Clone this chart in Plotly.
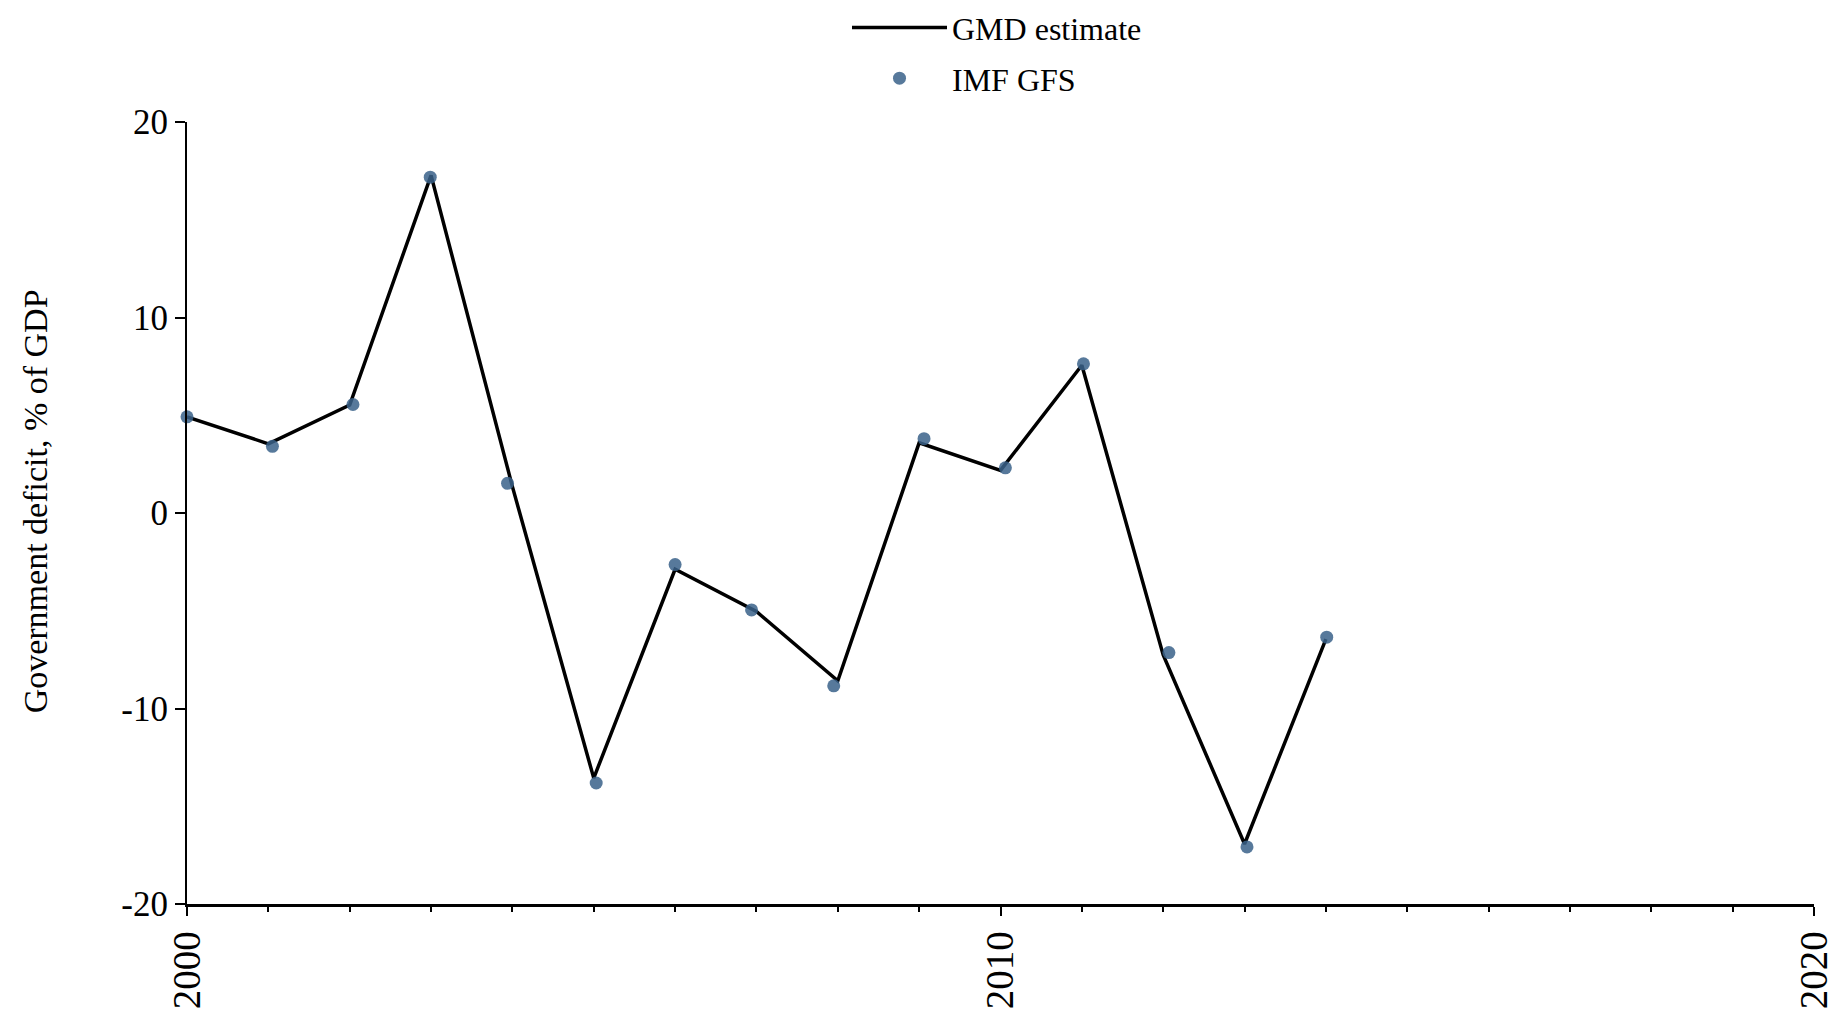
import plotly.graph_objects as go

# GMD estimate (line)
gmd_years = [2000, 2001, 2002, 2003, 2004, 2005, 2006, 2007, 2008, 2009, 2010, 2011, 2012, 2013, 2014]
gmd_values = [4.92, 3.54, 5.52, 17.27, 1.35, -13.56, -2.88, -5.04, -8.58, 3.59, 2.18, 7.56, -7.26, -16.93, -6.45]

# IMF GFS (dots, slightly jittered horizontally in the original)
imf_years = [2000.0, 2001.05, 2002.04, 2002.99, 2003.94, 2005.03, 2006.0, 2006.94, 2007.95, 2009.06, 2010.06, 2011.02, 2012.07, 2013.03, 2014.01]
imf_values = [4.92, 3.41, 5.55, 17.18, 1.52, -13.81, -2.64, -4.96, -8.84, 3.80, 2.31, 7.63, -7.14, -17.08, -6.35]

x_tickvals = [2000, 2010, 2020]
y_tickvals = [-20, -10, 0, 10, 20]

FONT = "Liberation Serif"
W, H = 1829, 1004  # page body has an 8px margin
ML, MR, MT, MB = 178.5, 23.4, 113.8, 107.5
PH = H - MT - MB

fig = go.Figure()
fig.add_trace(go.Scatter(
    x=gmd_years, y=gmd_values, mode="lines", name="GMD estimate",
    line=dict(color="black", width=3.5), legendgroup="a", cliponaxis=False,
))
fig.add_trace(go.Scatter(
    x=imf_years, y=imf_values, mode="markers", name="IMF GFS",
    marker=dict(color="#3a6189", size=13, opacity=0.85, line=dict(width=0)),
    legendgroup="b", cliponaxis=False,
))

fig.update_layout(
    width=W, height=H,
    paper_bgcolor="white", plot_bgcolor="white",
    margin=dict(l=ML, r=MR, t=MT, b=MB, autoexpand=False),
    font=dict(family=FONT, color="black", size=34),
    showlegend=True,
    legend=dict(
        orientation="v", xref="container", x=839 / W, xanchor="left",
        yref="paper", y=1 + (MT + 8) / PH, yanchor="top",
        font=dict(family=FONT, size=32, color="black"),
        itemwidth=95, tracegroupgap=6, bgcolor="rgba(0,0,0,0)",
    ),
    xaxis=dict(
        range=[2000, 2020], tickvals=x_tickvals, ticktext=[str(v) for v in x_tickvals],
        tickangle=-90, tickfont=dict(family=FONT, size=39, color="black"),
        showline=True, linecolor="black", linewidth=2.5, mirror=False,
        ticks="outside", ticklen=9, tickwidth=2, tickcolor="black",
        showgrid=False, zeroline=False,
        minor=dict(dtick=1, tick0=2000, ticks="outside", ticklen=5, tickwidth=1.5, tickcolor="black", showgrid=False),
    ),
    yaxis=dict(
        range=[-20, 20], tickvals=y_tickvals, ticktext=[str(v) for v in y_tickvals],
        tickfont=dict(family=FONT, size=35, color="black"),
        showline=True, linecolor="black", linewidth=2, ticks="outside", ticklen=10,
        tickwidth=2, tickcolor="black", showgrid=False, zeroline=False,
    ),
    annotations=[dict(
        text="Government deficit, % of GDP", xref="paper", yref="paper",
        x=-(ML - 27) / (W - ML - MR), xanchor="center",
        y=(H - MB - 494) / PH, yanchor="middle",
        textangle=-90, showarrow=False,
        font=dict(family=FONT, size=34, color="black"),
    )],
)

fig.write_html("out.html")
